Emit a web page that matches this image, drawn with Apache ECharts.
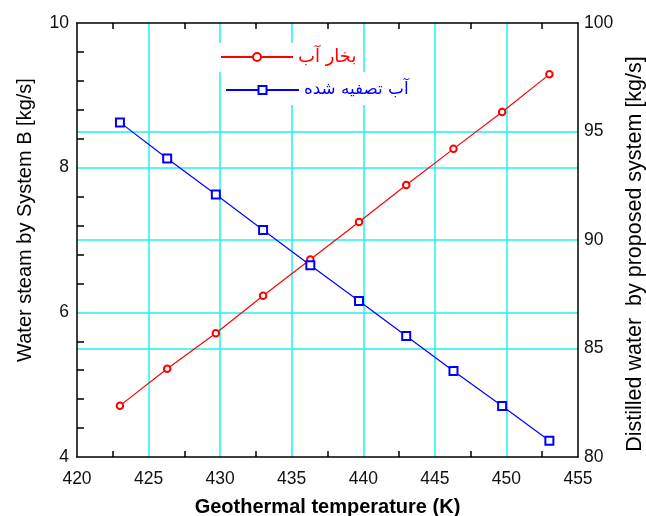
<!DOCTYPE html>
<html><head><meta charset="utf-8">
<script src="https://cdn.jsdelivr.net/npm/echarts@6/dist/echarts.min.js"></script>
<style>html,body{margin:0;padding:0;background:#fff}#c{width:646px;height:516px}</style>
</head><body><div id="c"></div>
<script>
// Data
const temperature = [423, 426.3, 429.7, 433, 436.3, 439.7, 443, 446.3, 449.7, 453];
const waterSteam = [4.71, 5.22, 5.71, 6.23, 6.73, 7.25, 7.76, 8.26, 8.77, 9.29];
const distilledWater = [95.42, 93.76, 92.10, 90.46, 88.84, 87.19, 85.58, 83.96, 82.35, 80.75];
const xTickLabels = [420, 425, 430, 435, 440, 445, 450, 455];
const leftTickLabels = [4, 6, 8, 10];
const rightTickLabels = [80, 85, 90, 95, 100];
const steamName = 'بخار آب';
const waterName = 'آب تصفیه شده';
const xName = 'Geothermal temperature (K)';
const leftName = 'Water steam by System B [kg/s]';
const rightName = 'Distilled water  by proposed system [kg/s]';

const first = a => a[0], last = a => a[a.length - 1], step = a => a[1] - a[0];
const CYAN = '#22f0f0';
const AXIS_LINE = { show: true, lineStyle: { color: '#000', width: 1.5 } };
const LABEL_FONT = { fontFamily: 'Liberation Sans, Arial, sans-serif', fontSize: 17.5, color: '#111' };

const chart = echarts.init(document.getElementById('c'), null, { renderer: 'canvas' });
chart.setOption({
  backgroundColor: '#fff',
  animation: false,
  grid: { left: 77, right: 68, top: 23, bottom: 59, containLabel: false, outerBoundsMode: 'none' },
  legend: [
    {
      data: [steamName], left: 218, top: 43, padding: [4, 4, 5, 2],
      backgroundColor: '#fff', itemWidth: 72, itemHeight: 10, selectedMode: false,
      textStyle: { color: '#ff0000', fontSize: 18, lineHeight: 20, fontFamily: 'DejaVu Sans, sans-serif' }
    },
    {
      data: [waterName], left: 223, top: 72, padding: [8, 4, 5, 2],
      backgroundColor: '#fff', itemWidth: 73, itemHeight: 10, selectedMode: false,
      textStyle: { color: '#0000ff', fontSize: 16.8, lineHeight: 20, fontFamily: 'DejaVu Sans, sans-serif' }
    }
  ],
  xAxis: [
    {
      type: 'value', position: 'bottom',
      min: first(xTickLabels), max: last(xTickLabels), interval: step(xTickLabels),
      name: xName, nameLocation: 'middle', nameGap: 40,
      nameTextStyle: { fontFamily: 'Liberation Sans, Arial, sans-serif', fontSize: 20, fontWeight: 'bold', color: '#000' },
      axisLine: AXIS_LINE,
      axisTick: { show: false, inside: true },
      minorTick: { show: true, splitNumber: 2, length: 6, lineStyle: { color: '#000', width: 1.5 } },
      axisLabel: Object.assign({ margin: 13 }, LABEL_FONT),
      splitLine: { show: true, showMinLine: false, showMaxLine: false, lineStyle: { color: CYAN, width: 1.5 } }
    },
    {
      type: 'value', position: 'top',
      min: first(xTickLabels), max: last(xTickLabels), interval: step(xTickLabels),
      axisLine: AXIS_LINE,
      axisTick: { show: false, inside: true },
      minorTick: { show: true, splitNumber: 2, length: 6, lineStyle: { color: '#000', width: 1.5 } },
      axisLabel: { show: false },
      splitLine: { show: false }
    }
  ],
  yAxis: [
    {
      type: 'value', position: 'left',
      min: first(leftTickLabels), max: last(leftTickLabels), interval: step(leftTickLabels),
      name: leftName, nameLocation: 'middle', nameGap: 42,
      nameTextStyle: { fontFamily: 'Liberation Sans, Arial, sans-serif', fontSize: 20, color: '#000', padding: [0, 0, 0, 40] },
      axisLine: AXIS_LINE,
      axisTick: { show: false, inside: true },
      minorTick: { show: true, splitNumber: 5, length: 7, lineStyle: { color: '#000', width: 1.5 } },
      axisLabel: Object.assign({ margin: 8 }, LABEL_FONT),
      splitLine: { show: true, showMinLine: false, showMaxLine: false, lineStyle: { color: CYAN, width: 1.5 } }
    },
    {
      type: 'value', position: 'right',
      min: first(rightTickLabels), max: last(rightTickLabels), interval: step(rightTickLabels),
      name: rightName, nameLocation: 'middle', nameGap: 46,
      nameTextStyle: { fontFamily: 'Liberation Sans, Arial, sans-serif', fontSize: 21.5, color: '#000', padding: [0, 28, 0, 0] },
      axisLine: AXIS_LINE,
      axisTick: { show: false },
      axisLabel: Object.assign({ margin: 6 }, LABEL_FONT),
      splitLine: { show: true, showMinLine: false, showMaxLine: false, lineStyle: { color: CYAN, width: 1.5 } }
    }
  ],
  series: [
    {
      name: steamName, type: 'line', xAxisIndex: 0, yAxisIndex: 0,
      data: temperature.map((t, i) => [t, waterSteam[i]]),
      symbol: 'emptyCircle', symbolSize: 6.5,
      lineStyle: { color: '#ff0000', width: 1.2 },
      itemStyle: { color: '#ff0000', borderWidth: 1.2 },
      emphasis: { disabled: true }
    },
    {
      name: waterName, type: 'line', xAxisIndex: 0, yAxisIndex: 1,
      data: temperature.map((t, i) => [t, distilledWater[i]]),
      symbol: 'emptyRect', symbolSize: 8,
      lineStyle: { color: '#0000ff', width: 1.2 },
      itemStyle: { color: '#0000ff', borderWidth: 1.3 },
      emphasis: { disabled: true }
    }
  ]
});
</script>
</body></html>
